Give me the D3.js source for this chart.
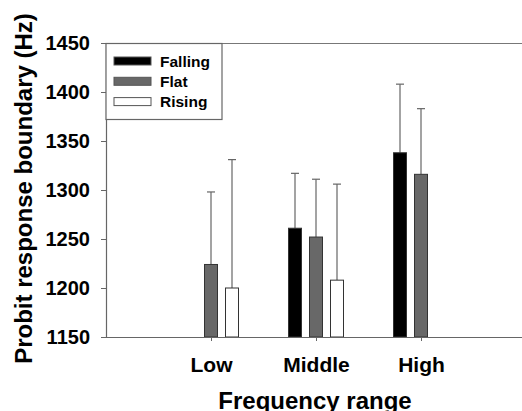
<!DOCTYPE html>
<html>
<head>
<meta charset="utf-8">
<script src="https://cdn.jsdelivr.net/npm/d3@7/dist/d3.min.js"></script>
<style>
  body { margin: 0; background: #fff; }
  svg { display: block; font-family: "Liberation Sans", Arial, sans-serif; font-weight: bold; }
</style>
</head>
<body>
<svg id="chart" width="522" height="411"></svg>
<script>
// data
const categories = ['Low', 'Middle', 'High'];
const series = ['Falling', 'Flat', 'Rising'];
const seriesColors = ['#000000', '#686868', '#ffffff'];

// mean boundary (Hz), null = no bar
const fallingMean = [null, 1261, 1338];
const flatMean = [1224, 1252, 1316];
const risingMean = [1200, 1208, null];

// top of the error bar (Hz)
const fallingUpper = [null, 1317, 1408];
const flatUpper = [1298, 1311, 1383];
const risingUpper = [1331, 1306, null];

const yTicks = [1150, 1200, 1250, 1300, 1350, 1400, 1450];

const means = [fallingMean, flatMean, risingMean];
const uppers = [fallingUpper, flatUpper, risingUpper];

const svg = d3.select('#chart');
const plotLeft = 106, plotRight = 526, plotTop = 43, plotBottom = 337;

const x = d3.scalePoint().domain(categories).range([plotLeft, plotRight]).padding(1);
const offset = d3.scalePoint().domain(series).range([-21, 21]);
const y = d3.scaleLinear().domain([1150, 1450]).range([plotBottom, plotTop]);
const barW = 13;

// flatten into bar records
const bars = [];
series.forEach((s, si) => {
  categories.forEach((c, ci) => {
    if (means[si][ci] == null) return;
    bars.push({ s, si, c, mean: means[si][ci], upper: uppers[si][ci] });
  });
});

// frame top line
svg.append('line')
  .attr('x1', plotLeft).attr('x2', plotRight)
  .attr('y1', plotTop + 0.5).attr('y2', plotTop + 0.5)
  .attr('stroke', '#777').attr('stroke-width', 1.2);

// error bars (behind bars)
const err = svg.append('g').attr('stroke', '#666').attr('stroke-width', 1.2);
bars.forEach(d => {
  const cx = x(d.c) + offset(d.s);
  err.append('line')
    .attr('x1', cx).attr('x2', cx)
    .attr('y1', y(d.mean)).attr('y2', y(d.upper));
  err.append('line')
    .attr('x1', cx - 4).attr('x2', cx + 4)
    .attr('y1', y(d.upper)).attr('y2', y(d.upper));
});

// bars
svg.append('g').selectAll('rect')
  .data(bars)
  .join('rect')
  .attr('x', d => x(d.c) + offset(d.s) - barW / 2)
  .attr('y', d => y(d.mean))
  .attr('width', barW)
  .attr('height', d => y(1150) - y(d.mean))
  .attr('fill', d => seriesColors[d.si])
  .attr('stroke', '#333')
  .attr('stroke-width', 1);

// axes
const yAxis = svg.append('g')
  .attr('transform', `translate(${plotLeft},0)`)
  .call(d3.axisLeft(y).tickValues(yTicks).tickSize(5).tickPadding(11).tickFormat(d3.format('d')));
yAxis.select('.domain').attr('stroke', '#666').attr('stroke-width', 1.2);
yAxis.selectAll('.tick line').attr('stroke', '#666');
yAxis.selectAll('text').attr('font-size', 20).attr('font-family', null).attr('fill', '#000');

const xAxis = svg.append('g')
  .attr('transform', `translate(0,${plotBottom})`)
  .call(d3.axisBottom(x).tickSize(4).tickPadding(16));
xAxis.select('.domain').attr('d', `M${plotLeft},0.5H${plotRight}`).attr('stroke', '#666').attr('stroke-width', 1.2);
xAxis.selectAll('.tick line').attr('stroke', '#666');
xAxis.selectAll('text').attr('font-size', 21).attr('font-family', null).attr('fill', '#000');

// axis titles
svg.append('text')
  .attr('x', 315).attr('y', 409)
  .attr('text-anchor', 'middle')
  .attr('font-size', 24)
  .text('Frequency range');

svg.append('text')
  .attr('transform', 'translate(32,188.5) rotate(-90)')
  .attr('text-anchor', 'middle')
  .attr('font-size', 24)
  .text('Probit response boundary (Hz)');

// legend
const legend = svg.append('g');
legend.append('rect')
  .attr('x', plotLeft).attr('y', plotTop + 0.5)
  .attr('width', 116).attr('height', 76)
  .attr('fill', '#fff').attr('stroke', '#666').attr('stroke-width', 1.2);
series.forEach((s, i) => {
  const cy = 61 + i * 20.3;
  legend.append('rect')
    .attr('x', 114).attr('y', cy - 4)
    .attr('width', 37).attr('height', 8)
    .attr('fill', seriesColors[i]).attr('stroke', '#555');
  legend.append('text')
    .attr('x', 160).attr('y', cy + 5.5)
    .attr('font-size', 15.5)
    .text(s);
});
</script>
</body>
</html>
